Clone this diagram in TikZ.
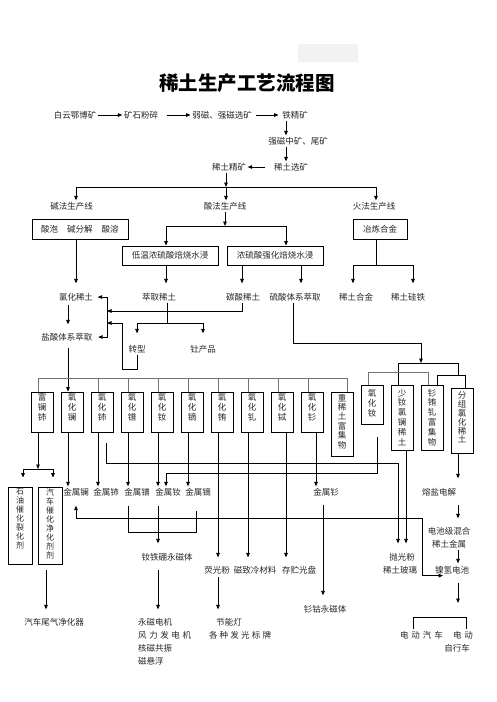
\documentclass[tikz,border=0pt]{standalone}
\usepackage{fontspec}
\setmainfont{Noto Sans CJK SC}
\usetikzlibrary{arrows.meta,calc}
\newcommand\vt[5]{\parbox[c][#1][t]{20pt}{\centering\fontsize{#2}{#3}\selectfont\vspace*{#4}#5\par}}
\begin{document}
\begin{tikzpicture}[x=1pt,y=-1pt,
  tx/.style={font=\fontsize{8.5}{10}\selectfont, inner sep=1.5pt, text=black!85},
  bx/.style={tx, draw=black, line width=0.9pt, inner sep=0pt},
  vb/.style={draw=black, line width=0.9pt, inner sep=0pt, minimum width=22pt, text=black!85},
  ln/.style={line width=0.75pt, draw=black},
  gl/.style={line width=0.75pt, draw=black!55},
  arr/.style={ln, -{Triangle[length=4.5pt,width=3.6pt]}},
  barr/.style={ln, {Triangle[length=4.5pt,width=3.6pt]}-{Triangle[length=4.5pt,width=3.6pt]}},
]
\useasboundingbox (0,0) rectangle (496,702);
\fill[black!5] (298,44) rectangle (358,62);

\node[font=\fontsize{19.5}{22}\selectfont\bfseries] (title) at (247,83) {稀土生产工艺流程图};

% row 1
\node[tx] (n1) at (75,115) {白云鄂博矿};
\node[tx] (n2) at (141,115) {矿石粉碎};
\node[tx] (n3) at (222,115) {弱磁、强磁选矿};
\node[tx] (n4) at (295,115) {铁精矿};
\node[tx] (n5) at (298,141) {强磁中矿、尾矿};
\node[tx] (n6) at (291,167) {稀土选矿};
\node[tx] (n7) at (229,167) {稀土精矿};
\node[tx] (n8) at (71.5,206) {碱法生产线};
\node[tx] (n9) at (225,206) {酸法生产线};
\node[tx] (n10) at (374,206) {火法生产线};

\node[bx, minimum width=96pt, minimum height=20pt] (b1) at (80,229) {酸泡\hspace{9pt}碱分解\hspace{9pt}酸溶};
\node[bx, minimum width=96pt, minimum height=19pt] (b2) at (170,255.5) {低温浓硫酸焙烧水浸};
\node[bx, minimum width=96pt, minimum height=19pt] (b3) at (275,255.5) {浓硫酸强化焙烧水浸};
\node[bx, minimum width=54pt, minimum height=20pt] (b4) at (380,229) {冶炼合金};

\node[tx] (lh) at (76,297) {氯化稀土};
\node[tx] (cq) at (159,297) {萃取稀土};
\node[tx] (ts) at (243,297) {碳酸稀土};
\node[tx] (ls) at (295,297) {硫酸体系萃取};
\node[tx] (hj) at (356,297) {稀土合金};
\node[tx] (gt) at (408,297) {稀土硅铁};
\node[tx] (ys) at (67,337) {盐酸体系萃取};
\node[tx] (zx) at (137,349) {转型};
\node[tx] (tc) at (203,349) {钍产品};

% vertical boxes
\node[vb] (o1) at (42,412) {\vt{40pt}{8.5}{10pt}{1pt}{富\\镧\\铈}};
\node[vb] (o2) at (72,412) {\vt{40pt}{8.5}{10pt}{1pt}{氧\\化\\镧}};
\node[vb] (o3) at (102,412) {\vt{40pt}{8.5}{10pt}{1pt}{氧\\化\\铈}};
\node[vb] (o4) at (132,412) {\vt{40pt}{8.5}{10pt}{1pt}{氧\\化\\镨}};
\node[vb] (o5) at (162,412) {\vt{40pt}{8.5}{10pt}{1pt}{氧\\化\\钕}};
\node[vb] (o6) at (192,412) {\vt{40pt}{8.5}{10pt}{1pt}{氧\\化\\镝}};
\node[vb] (o7) at (222,412) {\vt{40pt}{8.5}{10pt}{1pt}{氧\\化\\铕}};
\node[vb] (o8) at (252,412) {\vt{40pt}{8.5}{10pt}{1pt}{氧\\化\\钆}};
\node[vb] (o9) at (282,412) {\vt{40pt}{8.5}{10pt}{1pt}{氧\\化\\铽}};
\node[vb] (o10) at (312,412) {\vt{40pt}{8.5}{10pt}{1pt}{氧\\化\\钐}};
\node[vb] (o11) at (342,424) {\vt{64pt}{8.5}{9.4pt}{2pt}{重\\稀\\土\\富\\集\\物}};
\node[vb] (o12) at (372,404.5) {\vt{39pt}{8.5}{10pt}{4pt}{氧\\化\\钕}};
\node[vb] (o13) at (402,417.5) {\vt{65pt}{8.5}{9.8pt}{4pt}{少\\钕\\氯\\镧\\稀\\土}};
\node[vb] (o14) at (432,417.5) {\vt{65pt}{8.5}{9.8pt}{4pt}{钐\\铕\\钆\\富\\集\\物}};
\node[vb] (o15) at (462,420.5) {\vt{65pt}{8.5}{8.8pt}{4pt}{分\\组\\氯\\化\\稀\\土}};
\node[vb, minimum width=24pt] (sy) at (20,525.5) {\vt{77pt}{8}{9pt}{1.5pt}{石\\油\\催\\化\\裂\\化\\剂}};
\node[vb, minimum width=24pt] (qc) at (50,525.5) {\vt{77pt}{8}{9pt}{1.5pt}{汽\\车\\催\\化\\净\\化\\剂\\剂}};

% metals
\node[tx] (m1) at (76,492) {金属镧};
\node[tx] (m2) at (106,492) {金属铈};
\node[tx] (m3) at (137,492) {金属镨};
\node[tx] (m4) at (168,492) {金属钕};
\node[tx] (m5) at (198,492) {金属镝};
\node[tx] (msm) at (326,492) {金属钐};
\node[tx] (ry) at (439,492) {熔盐电解};

\node[tx] (ndfeb) at (167,557) {钕铁硼永磁体};
\node[tx] (yg) at (217,570) {荧光粉};
\node[tx] (cz) at (255,570) {磁致冷材料};
\node[tx] (cc) at (299,570) {存贮光盘};
\node[tx] (pg) at (402,557) {抛光粉};
\node[tx] (bl) at (400,570) {稀土玻璃};
\node[tx] (dc1) at (449,531) {电池级混合};
\node[tx] (dc2) at (449,544) {稀土金属};
\node[tx] (nq) at (452,570) {镍氢电池};
\node[tx] (smco) at (325,609) {钐钴永磁体};
\node[tx] (wq) at (54,622) {汽车尾气净化器};
\node[tx, anchor=west] (app1) at (136.5,622) {永磁电机};
\node[tx, anchor=west] (app2) at (136.5,635) {风\kern2.6pt 力\kern2.6pt 发\kern2.6pt 电\kern2.6pt 机};
\node[tx, anchor=west] (app3) at (136.5,648) {核磁共振};
\node[tx, anchor=west] (app4) at (136.5,661) {磁悬浮};
\node[tx] (jn) at (229,622) {节能灯};
\node[tx] (bp) at (240,635) {各\kern2.2pt 种\kern2.2pt 发\kern2.2pt 光\kern2.2pt 标\kern2.2pt 牌};
\node[tx] (ev) at (421.5,635) {电\kern3pt 动\kern3pt 汽\kern3pt 车};
\node[tx] (ev2) at (463,635) {电\kern3pt 动};
\node[tx] (zxc) at (457,648) {自行车};

% ---------- connectors ----------
\draw[arr] (n1) -- (n2);
\draw[arr, shorten <=7pt] (n2) -- (n3);
\draw[arr, shorten <=3pt, shorten >=2pt] (n3) -- (n4);
\draw[arr] (n4.south -| 286,0) -- (n5.north -| 286,0);
\draw[arr] (n5.south -| 286,0) -- (n6.north -| 286,0);
\draw[arr] ([xshift=-7pt]n6.west) -- (n7.east);

\coordinate (j1) at (226,187);
\draw[arr] (n7.south -| j1) -- (j1);
\draw[arr] (j1) -- (n9.north -| j1);
\draw[arr] (j1) -| (n8.north -| 76,0);
\draw[arr] (j1) -| (n10.north -| 376,0);

\coordinate (j2) at (225,226);
\draw[arr] (n9.south -| j2) -- (j2);
\draw[arr] (j2) -| (b2.north -| 166,0);
\draw[arr] (j2) -| (b3.north -| 286,0);

\draw[arr, shorten >=8pt] (b1.south -| 76,0) -- (lh.north -| 76,0);
\draw[arr, shorten >=8pt] (b2.south -| 166,0) -- (cq.north -| 166,0);
\draw[arr, shorten >=8pt] (b3.south -| 242,0) -- (ts.north -| 242,0);
\draw[arr, shorten >=8pt] (b3.south -| 301,0) -- (ls.north -| 301,0);
\coordinate (j3) at (376,265);
\draw[ln] (b4.south -| j3) -- (j3);
\draw[arr, shorten >=8pt] (j3) -| (hj.north -| 353,0);
\draw[arr, shorten >=8pt] (j3) -| (gt.north -| 413,0);

\draw[arr, shorten <=2pt, shorten >=7pt] (lh.south -| 68,0) -- (ys.north -| 68,0);
\coordinate (kt) at (107,297);
\coordinate (kb) at (107,337);
\draw[barr, shorten <=3pt, shorten >=4pt] (lh.east) -- (kt) -- (kb) -- (ys.east);
\coordinate (k2) at (107,311);
\draw[arr] (ts.south -| 242,0) |- (k2);
\coordinate (j4) at (167,323);
\draw[ln] (cq.south -| j4) -- (j4);
\draw[arr, shorten >=10pt] (j4) -| (zx.north);
\draw[arr, shorten >=10pt] (j4) -| (tc.north);
\coordinate (k3) at (107,323);
\draw[arr] (zx.south) |- (122,369) |- (k3);

\draw[arr, shorten <=5pt] (ys.south -| 68,0) -- (o2.north -| 68,0);
\coordinate (g1) at (38,378);
\coordinate (g2) at (347,378);
\draw[gl] (o1.north -| g1) -- (g1) -- (g2) -- (o11.north -| g2);
\foreach \i/\x in {3/98,4/128,5/158,6/188,7/218,8/248,9/278,10/308}
  \draw[gl] (o\i.north -| \x,0) -- (\x,378);

\coordinate (j5) at (421,363);
\draw[arr] (ls.south -| 293,0) |- (421,343) -- (j5);
\draw[ln] (398,363) -- (458,363);
\draw[ln] (398,363) -- (o13.north -| 398,0);
\draw[ln] (458,363) |- (437,375) -- (o14.north -| 437,0);
\draw[ln] (458,375) -| (o15.north -| 465,0);
\draw[gl] (o12.north -| 368,0) |- (428,372) -- (o14.north -| 428,0);

% bottom
\coordinate (j6) at (38,469);
\draw[arr] (o1.south -| j6) -- (j6);
\draw[arr, shorten >=9pt] (j6) -| (sy.north -| 23,0);
\draw[arr, shorten >=9pt] (j6) -| (qc.north -| 53,0);
\draw[arr] (o2.south -| 68,0) -- (m1.north -| 68,0);
\draw[arr] (o3.south -| 98,0) -- (m2.north -| 98,0);
\draw[arr] (o4.south -| 128,0) -- (m3.north -| 128,0);
\draw[arr] (o5.south -| 158,0) -- (m4.north -| 158,0);
\draw[arr] (o6.south -| 188,0) -- (m5.north -| 188,0);
\draw[arr, shorten >=7pt] (o7.south -| 218,0) -- (yg.north -| 218,0);
\draw[arr, shorten >=7pt] (o8.south -| 248,0) -- (cz.north -| 248,0);
\draw[arr, shorten >=7pt] (o9.south -| 286,0) -- (cc.north -| 286,0);
\draw[arr] (o10.south -| 316,0) -- (msm.north -| 316,0);
\draw[arr, shorten >=8pt] ($(o3.south -| 106,0)+(0,11)$) |- (398,463) -- (pg.north -| 398,0);
\draw[arr, shorten >=8pt] (o13.south -| 406,0) -- (pg.north -| 406,0);
\draw[arr] ($(o12.south -| 377,0)+(0,13)$) |- (166,473) -- (m4.north -| 166,0);
\draw[arr, shorten >=8pt] (o15.south -| 458,0) -- (ry.north -| 458,0);
\draw[arr, shorten <=7pt, shorten >=7pt] (ry.south -| 458,0) -- (dc1.north -| 458,0);
\draw[arr, shorten >=1pt] (dc2.south -| 458,0) -- (nq.north -| 458,0);
\coordinate (j9) at (458,603);
\draw[arr, shorten <=7pt] (nq.south -| j9) -- (j9);
\draw[ln] (ev.north -| 413,0) |- (466,617) -- (ev2.north -| 466,0);
\draw[barr, shorten <=8pt] (m1.south -| 76,0) |- (422,518) |- (nq.south -| 443,0);

\coordinate (q1) at (128,532);
\coordinate (q2) at (196,532);
\draw[ln] ($(m3.south -| q1)+(0,8)$) -- (q1) -- (q2) -- ($(m5.south -| q2)+(0,13)$);
\draw[arr, shorten <=8pt, shorten >=8pt] (m4.south -| 158,0) -- (ndfeb.north -| 158,0);
\draw[arr, shorten <=7pt, shorten >=7pt] (ndfeb.south -| 158,0) -- (app1.north -| 158,0);
\draw[arr, shorten <=1pt, shorten >=7pt] (yg.south -| 218,0) -- (jn.north -| 218,0);
\draw[arr, shorten <=7pt, shorten >=8pt] (msm.south -| 323,0) -- (smco.north -| 323,0);
\draw[arr, shorten <=6pt, shorten >=7pt] (qc.south -| 46,0) -- (wq.north -| 46,0);
\end{tikzpicture}
\end{document}
